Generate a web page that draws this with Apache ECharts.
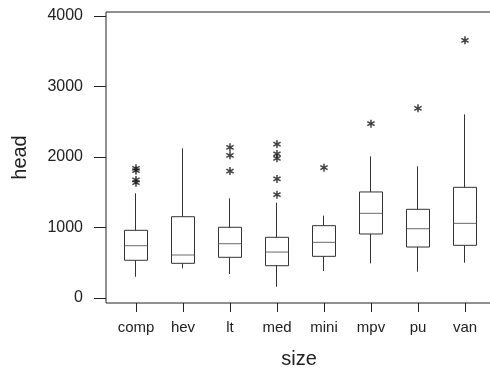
<!DOCTYPE html>
<html>
<head>
<meta charset="utf-8">
<script src="https://cdn.jsdelivr.net/npm/echarts@6/dist/echarts.min.js"></script>
<style>
  html, body { margin: 0; padding: 0; background: #fff; }
  #chart { width: 490px; height: 368px; }
</style>
</head>
<body>
<div id="chart"></div>
<script>
// box summaries per vehicle size
const sizes = ["comp", "hev", "lt", "med", "mini", "mpv", "pu", "van"];
const whiskerLow = [302, 421, 340, 160, 383, 492, 373, 501];
const q1 = [535, 492, 577, 458, 591, 908, 723, 747];
const median = [742, 610, 770, 652, 790, 1201, 983, 1059];
const q3 = [960, 1153, 1003, 861, 1026, 1504, 1258, 1570];
const whiskerHigh = [1485, 2123, 1414, 1352, 1168, 2009, 1868, 2605];
const outliers = [
  [1840, 1806, 1674, 1636],
  [],
  [2137, 2024, 1801],
  [2184, 2043, 1981, 1688, 1465],
  [1849],
  [2473],
  [2690],
  [3655]
];
const yTicks = [0, 1000, 2000, 3000, 4000];

const font = "Liberation Sans";
const ink = "#222";
// asterisk made of three thin bars
const star = "path://M-0.9 5L0.9 5L0.9 -5L-0.9 -5Z" +
  "M3.88 3.28L4.78 1.72L-3.88 -3.28L-4.78 -1.72Z" +
  "M4.78 -1.72L3.88 -3.28L-4.78 1.72L-3.88 3.28Z";

const xIdx = sizes.map((s, i) => i);
const boxData = sizes.map((s, i) => [i, q1[i], q3[i], whiskerLow[i], whiskerHigh[i]]);
const medData = sizes.map((s, i) => [i, median[i]]);
const outData = [];
outliers.forEach((list, i) => list.forEach(v => outData.push([i, v])));

const chart = echarts.init(document.getElementById("chart"));
chart.setOption({
  animation: false,
  grid: {
    left: 106, right: -2, top: 12, bottom: 65,
    outerBoundsMode: "none",
    show: true, borderColor: ink, borderWidth: 1
  },
  xAxis: {
    type: "value",
    min: -0.638,
    max: 7.575,
    name: "size",
    nameLocation: "middle",
    nameGap: 46,
    nameTextStyle: { fontSize: 20, color: ink, fontFamily: font },
    axisLine: { show: false, onZero: false },
    splitLine: { show: false },
    axisTick: { show: true, length: 9, customValues: xIdx, lineStyle: { color: ink } },
    axisLabel: {
      customValues: xIdx,
      formatter: v => sizes[v],
      margin: 17,
      fontSize: 15,
      color: ink,
      fontFamily: font
    }
  },
  yAxis: {
    type: "value",
    min: -70.9,
    max: 4056.7,
    name: "head",
    nameLocation: "middle",
    nameGap: 76,
    nameTextStyle: { fontSize: 20, color: ink, fontFamily: font },
    axisLine: { show: false, onZero: false },
    splitLine: { show: false },
    axisTick: { show: true, length: 12, customValues: yTicks, lineStyle: { color: ink } },
    axisLabel: {
      customValues: yTicks,
      formatter: v => String(v),
      margin: 23,
      fontSize: 16,
      color: ink,
      fontFamily: font
    }
  },
  series: [
    {
      type: "candlestick",
      data: boxData,
      barWidth: 24,
      itemStyle: {
        color: "#fff", color0: "#fff",
        borderColor: "#333", borderColor0: "#333",
        borderWidth: 1
      }
    },
    {
      type: "scatter",
      data: medData,
      symbol: "rect",
      symbolSize: [24, 1],
      itemStyle: { color: "#444" },
      z: 3
    },
    {
      type: "scatter",
      data: outData,
      symbol: star,
      symbolSize: 8,
      itemStyle: { color: "#111" },
      z: 4
    }
  ]
});
</script>
</body>
</html>
